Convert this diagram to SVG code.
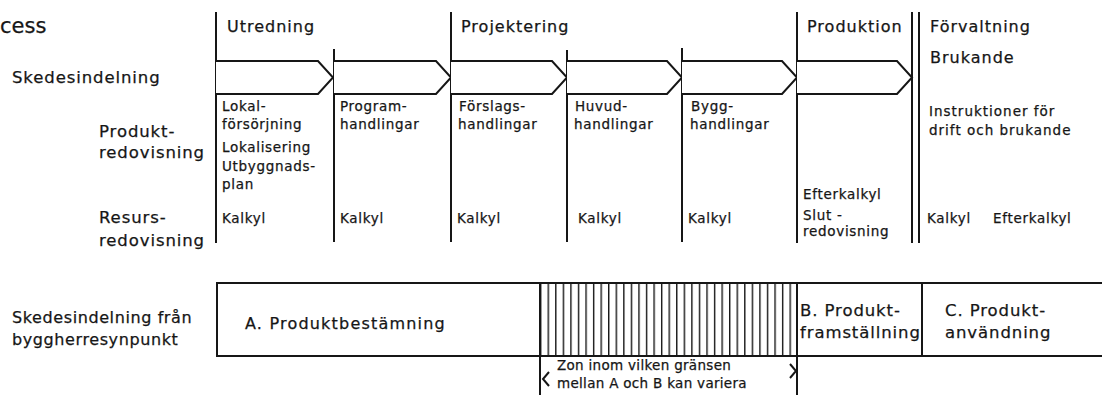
<svg xmlns="http://www.w3.org/2000/svg" width="1102" height="395" viewBox="0 0 1102 395">
  <style>
    text { font-family: "DejaVu Sans", "Liberation Sans", sans-serif; fill: #161616; stroke: #161616; stroke-width: 0.25px; }
    .head { font-size: 16px; letter-spacing: 1px; }
    .lab { font-size: 16.5px; letter-spacing: 0.9px; }
    .lab2 { font-size: 16px; letter-spacing: 0.6px; }
    .sm { font-size: 13.5px; letter-spacing: 0.7px; }
    .zone { font-size: 13.5px; letter-spacing: 0.3px; }
    .ln { stroke: #161616; stroke-width: 2; fill: none; }
    .stage { stroke: #161616; stroke-width: 2; fill: #ffffff; stroke-linejoin: miter; }
    .hatch-ln { stroke: #161616; stroke-width: 1.4; }
  </style>
  <defs>
    <pattern id="hatch" patternUnits="userSpaceOnUse" x="540" y="0" width="7.56" height="10">
      <line class="hatch-ln" x1="0.7" y1="0" x2="0.7" y2="10"/>
    </pattern>
  </defs>

  <rect x="0" y="0" width="1102" height="395" fill="#ffffff"/>

  <!-- title fragment -->
  <text x="0" y="33" style="font-size:21px">cess</text>

  <!-- row labels -->
  <g id="row-labels">
    <text class="lab" x="12" y="83">Skedesindelning</text>
    <text class="lab" x="99" y="137">Produkt-</text>
    <text class="lab" x="99" y="158">redovisning</text>
    <text class="lab" x="99" y="223">Resurs-</text>
    <text class="lab" x="99" y="246">redovisning</text>
  </g>

  <!-- phase dividers -->
  <g id="connectors">
    <line class="ln" x1="216" y1="12" x2="216" y2="243"/>
    <line class="ln" x1="334" y1="49" x2="334" y2="242"/>
    <line class="ln" x1="451" y1="12" x2="451" y2="242"/>
    <line class="ln" x1="567" y1="50" x2="567" y2="242"/>
    <line class="ln" x1="682" y1="48" x2="682" y2="242"/>
    <line class="ln" x1="797" y1="12" x2="797" y2="243"/>
    <line class="ln" x1="912" y1="12" x2="912" y2="243"/>
    <line class="ln" x1="919" y1="12" x2="919" y2="243"/>
  </g>

  <!-- stage arrows -->
  <g id="stages">
    <path id="stage-1" class="stage" d="M216,61 H318 L333,77.5 L318,94 H216"/>
    <path id="stage-2" class="stage" d="M334,61 H436 L451,77.5 L436,94 H334"/>
    <path id="stage-3" class="stage" d="M451,61 H552 L567,77.5 L552,94 H451"/>
    <path id="stage-4" class="stage" d="M567,61 H667 L682,77.5 L667,94 H567"/>
    <path id="stage-5" class="stage" d="M682,61 H782 L797,77.5 L782,94 H682"/>
    <path id="stage-6" class="stage" d="M797,61 H897 L912,77.5 L897,94 H797"/>
  </g>

  <!-- phase headings -->
  <g id="phase-utredning"><text class="head" x="227" y="32">Utredning</text></g>
  <g id="phase-projektering"><text class="head" x="461" y="32">Projektering</text></g>
  <g id="phase-produktion"><text class="head" x="807" y="32">Produktion</text></g>
  <g id="phase-forvaltning">
    <text class="head" x="930" y="32">Förvaltning</text>
    <text class="head" x="930" y="63">Brukande</text>
  </g>

  <!-- column contents -->
  <g id="col-1">
    <text class="sm" x="222" y="111">Lokal-</text>
    <text class="sm" x="222" y="129">försörjning</text>
    <text class="sm" x="222" y="152">Lokalisering</text>
    <text class="sm" x="222" y="171">Utbyggnads-</text>
    <text class="sm" x="222" y="189">plan</text>
    <text class="sm" x="222" y="223">Kalkyl</text>
  </g>
  <g id="col-2">
    <text class="sm" x="340" y="111">Program-</text>
    <text class="sm" x="340" y="129">handlingar</text>
    <text class="sm" x="340" y="223">Kalkyl</text>
  </g>
  <g id="col-3">
    <text class="sm" x="459" y="111">Förslags-</text>
    <text class="sm" x="458" y="129">handlingar</text>
    <text class="sm" x="457" y="223">Kalkyl</text>
  </g>
  <g id="col-4">
    <text class="sm" x="575" y="111">Huvud-</text>
    <text class="sm" x="574" y="129">handlingar</text>
    <text class="sm" x="578" y="223">Kalkyl</text>
  </g>
  <g id="col-5">
    <text class="sm" x="691" y="111">Bygg-</text>
    <text class="sm" x="690" y="129">handlingar</text>
    <text class="sm" x="688" y="223">Kalkyl</text>
  </g>
  <g id="col-6">
    <text class="sm" x="803" y="199">Efterkalkyl</text>
    <text class="sm" x="803" y="220">Slut -</text>
    <text class="sm" x="803" y="236">redovisning</text>
  </g>
  <g id="col-7">
    <text class="sm" x="929" y="116" style="letter-spacing:1px">Instruktioner för</text>
    <text class="sm" x="929" y="135" style="letter-spacing:1px">drift och brukande</text>
    <text class="sm" x="927" y="223">Kalkyl</text>
    <text class="sm" x="993" y="223">Efterkalkyl</text>
  </g>

  <!-- client's phase division bar -->
  <g id="client-label">
    <text class="lab2" x="12" y="323">Skedesindelning från</text>
    <text class="lab2" x="12" y="345">byggherresynpunkt</text>
  </g>
  <g id="client-bar">
    <rect x="540" y="283" width="257" height="73" fill="url(#hatch)"/>
    <rect class="ln" x="217" y="283" width="900" height="73"/>
    <line class="ln" x1="540" y1="283" x2="540" y2="395"/>
    <line class="ln" x1="797" y1="283" x2="797" y2="395"/>
    <line class="ln" x1="922" y1="283" x2="922" y2="356"/>
  </g>
  <g id="phase-a"><text class="lab2" x="245" y="329" style="letter-spacing:1.2px">A.  Produktbestämning</text></g>
  <g id="phase-b">
    <text class="lab" x="800" y="316">B.  Produkt-</text>
    <text class="lab" x="800" y="338">framställning</text>
  </g>
  <g id="phase-c">
    <text class="lab" x="945" y="316">C.  Produkt-</text>
    <text class="lab" x="945" y="338">användning</text>
  </g>
  <g id="zone-note">
    <path class="ln" stroke-width="1.5" d="M549,372 L543,379 L549,386"/>
    <path class="ln" stroke-width="1.5" d="M790,364 L796,371 L790,378"/>
    <text class="zone" x="557" y="370">Zon inom vilken gränsen</text>
    <text class="zone" x="557" y="388">mellan A och B kan variera</text>
  </g>
</svg>
